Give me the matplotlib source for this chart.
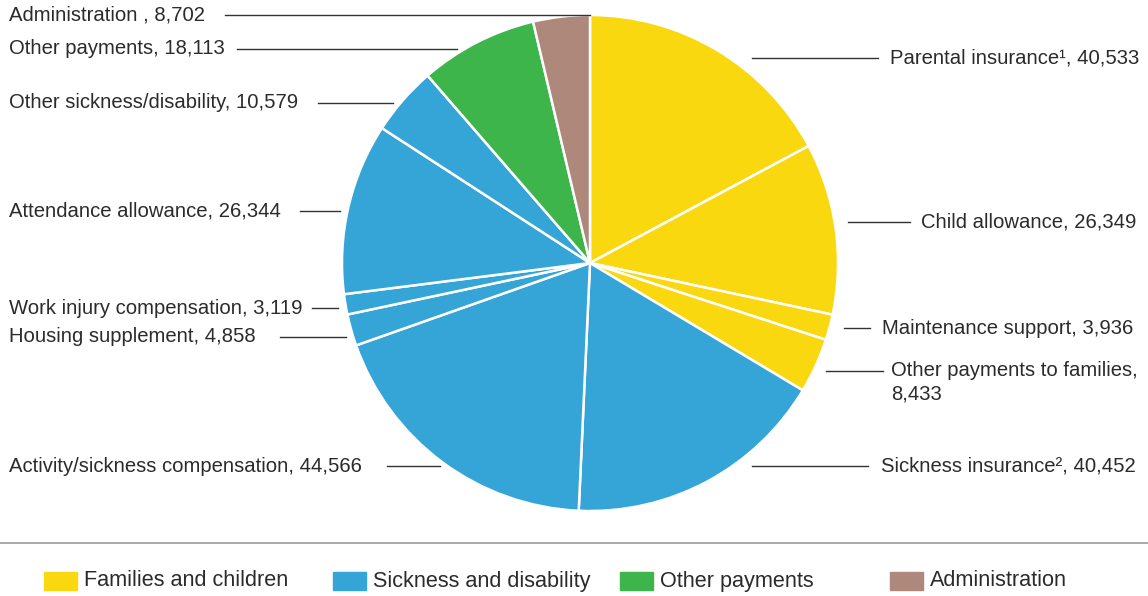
import matplotlib.pyplot as plt
from matplotlib.patches import Rectangle

plt.rcParams['font.family'] = ['Liberation Sans', 'DejaVu Sans']

# slices, clockwise from the top
names = ["Parental insurance¹", "Child allowance", "Maintenance support",
         "Other payments to families", "Sickness insurance²",
         "Activity/sickness compensation", "Housing supplement",
         "Work injury compensation", "Attendance allowance",
         "Other sickness/disability", "Other payments", "Administration "]
values = [40533, 26349, 3936, 8433, 40452, 44566, 4858, 3119, 26344,
          10579, 18113, 8702]
groups = ["Families and children"] * 4 + ["Sickness and disability"] * 6 + \
         ["Other payments", "Administration"]

group_names = ["Families and children", "Sickness and disability",
               "Other payments", "Administration"]
group_colors = ["#FAD80F", "#35A5D8", "#3DB54A", "#AD887B"]

# label layout in pixels: (text x, y, line x0, line x1); text is left aligned
label_layout = [
    (890, 58, 752, 878),
    (921, 222, 848, 910),
    (882, 328, 844, 870),
    (891, 371, 826, 883),
    (881, 466, 752, 868),
    (9, 466, 387, 440),
    (9, 337, 280, 346),
    (9, 308, 312, 338),
    (9, 211, 300, 340),
    (9, 103, 318, 393),
    (9, 49, 237, 457),
    (9, 15, 225, 590),
]

W, H = 1148, 596
fs = 14.6
fig = plt.figure(figsize=(W / 100, H / 100), dpi=100)
ax = fig.add_axes([0, 0, 1, 1])

color_of = dict(zip(group_names, group_colors))
ax.pie(values, colors=[color_of[g] for g in groups], startangle=90,
       counterclock=False, center=(590, H - 263), radius=248,
       wedgeprops=dict(edgecolor="white", linewidth=1.8))

text_color = "#2b2b2b"
for name, val, (tx, ty, x0, x1) in zip(names, values, label_layout):
    ax.plot([x0, x1], [H - ty, H - ty], color="#333333", lw=1.0)
    if name == "Other payments to families":
        ax.text(tx, H - ty, f"{name},", ha="left", va="center",
                fontsize=fs, color=text_color)
        ax.text(tx, H - ty - 23, f"{val:,}", ha="left", va="center",
                fontsize=fs, color=text_color)
        continue
    ax.text(tx, H - ty, f"{name}, {val:,}", ha="left", va="center",
            fontsize=fs, color=text_color)

# separator and legend
ax.plot([0, W], [H - 543, H - 543], color="#9a9a9a", lw=1.2)
legend_x = [44, 333, 620, 890]
for gx, gname, gcol in zip(legend_x, group_names, group_colors):
    ax.add_patch(Rectangle((gx, H - 590), 33, 18, color=gcol))
    ax.text(gx + 40, H - 581, gname, ha="left", va="center",
            fontsize=15.6, color=text_color)

ax.set_xlim(0, W)
ax.set_ylim(0, H)
ax.set_aspect("auto")
ax.axis("off")

fig.savefig("out.png", dpi=100)
